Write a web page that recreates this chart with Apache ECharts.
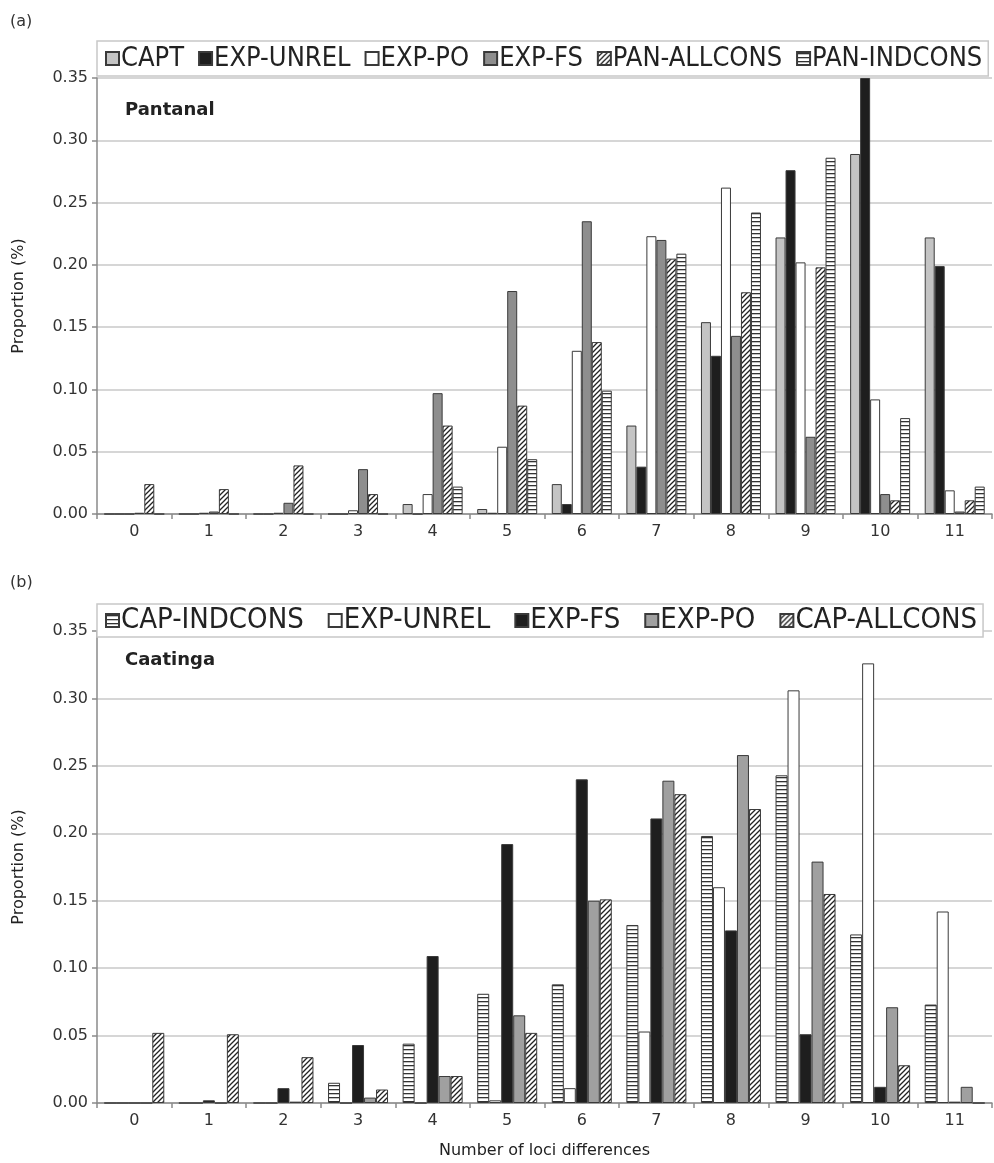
<!DOCTYPE html>
<html>
<head>
<meta charset="utf-8">
<script src="https://cdn.jsdelivr.net/npm/echarts@6/dist/echarts.min.js"></script>
<style>
html,body{margin:0;padding:0;background:#fff;}
#main{width:994px;height:1163px;}
</style>
</head>
<body>
<div id="main"></div>
<script>
// ---- data ----
const categories = ['0','1','2','3','4','5','6','7','8','9','10','11'];
const yTicks = [0, 0.05, 0.10, 0.15, 0.20, 0.25, 0.30, 0.35];

// Panel (a) Pantanal
const panCAPT  = [0, 0, 0, 0, 0.008, 0.004, 0.024, 0.071, 0.154, 0.222, 0.289, 0.222];
const panUNREL = [0, 0, 0, 0, 0, 0.001, 0.008, 0.038, 0.127, 0.276, 0.350, 0.199];
const panPO    = [0, 0.001, 0.001, 0.003, 0.016, 0.054, 0.131, 0.223, 0.262, 0.202, 0.092, 0.019];
const panFS    = [0.001, 0.002, 0.009, 0.036, 0.097, 0.179, 0.235, 0.220, 0.143, 0.062, 0.016, 0.002];
const panALL   = [0.024, 0.020, 0.039, 0.016, 0.071, 0.087, 0.138, 0.205, 0.178, 0.198, 0.011, 0.011];
const panIND   = [0, 0, 0, 0, 0.022, 0.044, 0.099, 0.209, 0.242, 0.286, 0.077, 0.022];

// Panel (b) Caatinga
const caaIND   = [0, 0, 0, 0.015, 0.044, 0.081, 0.088, 0.132, 0.198, 0.243, 0.125, 0.073];
const caaUNREL = [0, 0, 0, 0, 0, 0.002, 0.011, 0.053, 0.160, 0.306, 0.326, 0.142];
const caaFS    = [0, 0.002, 0.011, 0.043, 0.109, 0.192, 0.240, 0.211, 0.128, 0.051, 0.012, 0.001];
const caaPO    = [0, 0, 0.001, 0.004, 0.020, 0.065, 0.150, 0.239, 0.258, 0.179, 0.071, 0.012];
const caaALL   = [0.052, 0.051, 0.034, 0.010, 0.020, 0.052, 0.151, 0.229, 0.218, 0.155, 0.028, 0];

// ---- patterns ----
function hatchPattern(){
  const c = document.createElement('canvas'); c.width = 5; c.height = 5;
  const g = c.getContext('2d');
  g.fillStyle = '#fff'; g.fillRect(0,0,5,5);
  g.strokeStyle = '#222'; g.lineWidth = 1.3;
  g.beginPath();
  g.moveTo(-1,6); g.lineTo(6,-1);
  g.moveTo(-1,1); g.lineTo(1,-1);
  g.moveTo(4,6); g.lineTo(6,4);
  g.stroke();
  return {image: c, repeat: 'repeat'};
}
function stripePattern(){
  const c = document.createElement('canvas'); c.width = 4; c.height = 4;
  const g = c.getContext('2d');
  g.fillStyle = '#fff'; g.fillRect(0,0,4,4);
  g.fillStyle = '#333'; g.fillRect(0,1,4,1.3);
  return {image: c, repeat: 'repeat'};
}

const LIGHT = '#c4c4c4', BLACK = '#1e1e1e', WHITE = '#ffffff', MID = '#8e8e8e', MIDB = '#a0a0a0';
const BORDER = '#3a3a3a';
const tickFont = 'DejaVu Sans';
const legFont = "'DejaVu Sans Condensed','Liberation Sans Narrow','DejaVu Sans'";

function bar(name, data, color, gridIdx, w){
  return {
    name, type: 'bar', data, xAxisIndex: gridIdx, yAxisIndex: gridIdx,
    barWidth: w, barGap: '0%',
    itemStyle: {color, borderColor: BORDER, borderWidth: 1},
    emphasis: {disabled: true}
  };
}

const axisCommon = (gi) => ({
  x: {
    type: 'category', data: categories, gridIndex: gi,
    axisLine: {lineStyle: {color: '#8a8a8a', width: 1.5}},
    axisTick: {show: true, length: 5, lineStyle: {color: '#8a8a8a', width: 1.5}},
    axisLabel: {fontFamily: tickFont, fontSize: 16, color: '#333', margin: 10}
  },
  y: {
    type: 'value', gridIndex: gi, min: 0, max: 0.35, interval: 0.05,
    axisLine: {show: true, lineStyle: {color: '#8a8a8a', width: 1.5}},
    axisTick: {show: true, length: 5, lineStyle: {color: '#8a8a8a', width: 1.5}},
    splitLine: {lineStyle: {color: '#c8c8c8', width: 1.5}},
    axisLabel: {fontFamily: tickFont, fontSize: 16, color: '#333', margin: 9,
      formatter: v => v.toFixed(2)},
    name: 'Proportion (%)', nameLocation: 'middle', nameGap: 70, nameRotate: 90,
    nameTextStyle: {fontFamily: tickFont, fontSize: 16, color: '#222'}
  }
});
const a = axisCommon(0), b = axisCommon(1);
b.x.name = 'Number of loci differences';
b.x.nameLocation = 'middle';
b.x.nameGap = 40;
b.x.nameTextStyle = {fontFamily: tickFont, fontSize: 16, color: '#222'};

const hatch = hatchPattern(), stripe = stripePattern();

const legendCommon = {
  orient: 'horizontal', left: 97,
  backgroundColor: '#fff', borderColor: '#c8c8c8', borderWidth: 1.5,
  padding: [4, 6, 4, 8], itemWidth: 13, itemHeight: 13, itemGap: 14,
  icon: 'rect', selectedMode: false,
  textStyle: {fontFamily: legFont, fontSize: 27, color: '#222', padding: [0,0,0,-3]}
};

const option = {
  animation: false,
  backgroundColor: '#fff',
  grid: [
    {left: 97, right: 2, top: 78, height: 436},
    {left: 97, right: 2, top: 631, height: 472}
  ],
  xAxis: [a.x, b.x],
  yAxis: [a.y, b.y],
  legend: [
    Object.assign({}, legendCommon, {top: 41,
      data: ['CAPT','EXP-UNREL','EXP-PO','EXP-FS','PAN-ALLCONS','PAN-INDCONS']}),
    Object.assign({}, legendCommon, {top: 604, padding: [2, 6, 2, 8],
      textStyle: Object.assign({}, legendCommon.textStyle, {fontSize: 29}), itemGap: 24,
      data: ['CAP-INDCONS','EXP-UNREL ','EXP-FS ','EXP-PO ','CAP-ALLCONS']})
  ],
  graphic: [
    {type: 'text', left: 10, top: 14, style: {text: '(a)', font: '16px DejaVu Sans', fill: '#333'}},
    {type: 'text', left: 10, top: 575, style: {text: '(b)', font: '16px DejaVu Sans', fill: '#333'}},
    {type: 'text', left: 125, top: 101, style: {text: 'Pantanal', font: 'bold 18px DejaVu Sans', fill: '#222'}},
    {type: 'text', left: 125, top: 651, style: {text: 'Caatinga', font: 'bold 18px DejaVu Sans', fill: '#222'}}
  ],
  series: [
    bar('CAPT', panCAPT, LIGHT, 0, 10),
    bar('EXP-UNREL', panUNREL, BLACK, 0, 10),
    bar('EXP-PO', panPO, WHITE, 0, 10),
    bar('EXP-FS', panFS, MID, 0, 10),
    bar('PAN-ALLCONS', panALL, hatch, 0, 10),
    bar('PAN-INDCONS', panIND, stripe, 0, 10),
    bar('CAP-INDCONS', caaIND, stripe, 1, 12),
    bar('EXP-UNREL ', caaUNREL, WHITE, 1, 12),
    bar('EXP-FS ', caaFS, BLACK, 1, 12),
    bar('EXP-PO ', caaPO, MIDB, 1, 12),
    bar('CAP-ALLCONS', caaALL, hatch, 1, 12)
  ]
};
// legend for panel b should show names without trailing space
option.legend[1].formatter = n => n.trim();

const chart = echarts.init(document.getElementById('main'), null, {renderer: 'canvas'});
chart.setOption(option);
</script>
</body>
</html>
